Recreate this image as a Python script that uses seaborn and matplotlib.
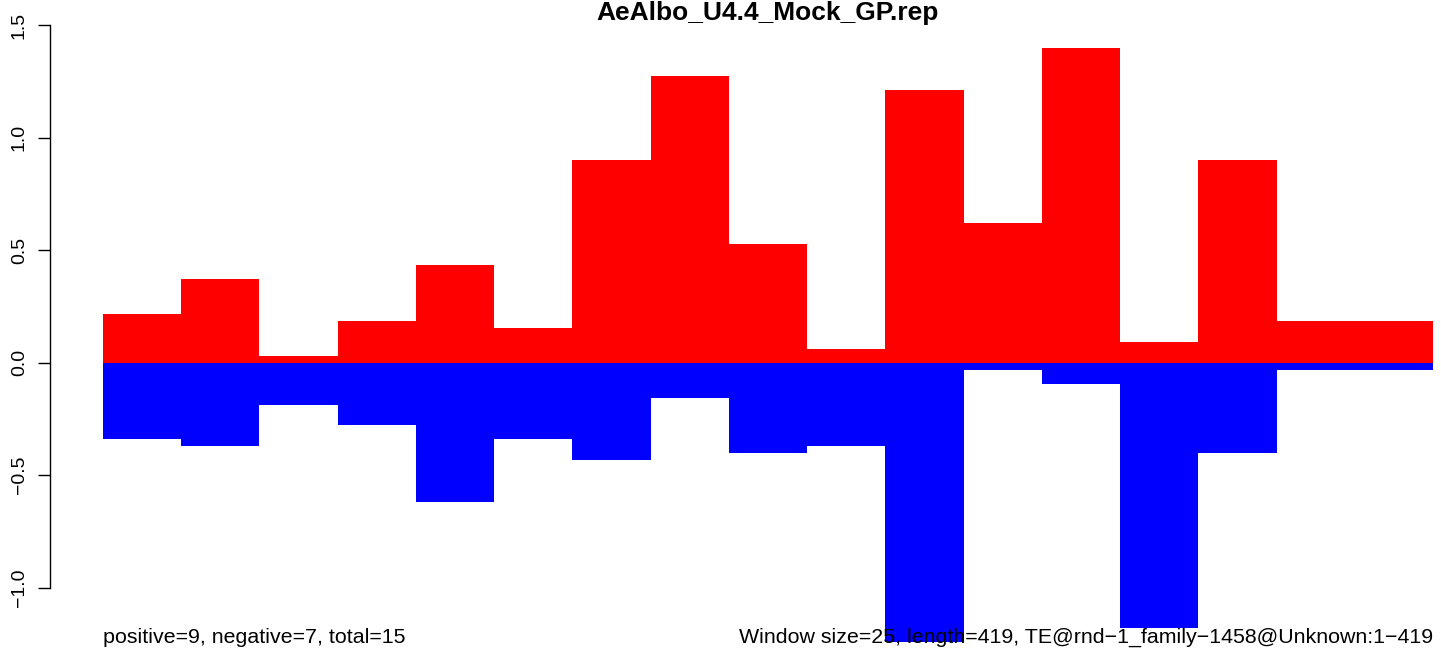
import pandas as pd
import numpy as np
import matplotlib
matplotlib.use("Agg")
import matplotlib.pyplot as plt
import seaborn as sns

# =========================
# DATA
# =========================

windows = [str(i) for i in range(1, 18)]
positive = [0.217, 0.372, 0.031, 0.186, 0.434, 0.155, 0.898, 1.274, 0.527,
            0.062, 1.212, 0.619, 1.398, 0.093, 0.898, 0.186, 0.186]
negative = [-0.341, -0.372, -0.186, -0.279, -0.619, -0.341, -0.434, -0.155, -0.403,
            -0.372, -1.239, -0.031, -0.093, -1.177, -0.403, -0.031, -0.031]

title = "AeAlbo_U4.4_Mock_GP.rep"
left_note = "positive=9, negative=7, total=15"
right_note = "Window size=25, length=419, TE@rnd\u22121_family\u22121458@Unknown:1\u2212419"
yticks = [-1.0, -0.5, 0.0, 0.5, 1.0, 1.5]

df = pd.DataFrame({"window": windows, "pos": positive, "neg": negative})

# =========================
# PLOT
# =========================

sns.set_style("white")
plt.rcParams["font.family"] = ["Liberation Sans", "DejaVu Sans"]
plt.rcParams["text.color"] = "black"
plt.rcParams["ytick.color"] = "black"
plt.rcParams["ytick.labelcolor"] = "black"

W, H = 1441, 651
fig = plt.figure(figsize=(W / 100, H / 100), dpi=100)
ax = fig.add_axes([103 / W, 0, 1330 / W, 1])

sns.barplot(data=df, x="window", y="pos", color="#ff0000", saturation=1,
            width=1, linewidth=0, ax=ax)
sns.barplot(data=df, x="window", y="neg", color="#0000ff", saturation=1,
            width=1, linewidth=0, ax=ax)

ax.set_xlim(-0.5, len(windows) - 0.5)
ax.set_ylim(-1.281, 1.611)
ax.set_xlabel("")
ax.set_ylabel("")
ax.set_xticks([])

for s in ["top", "right", "bottom"]:
    ax.spines[s].set_visible(False)
ax.spines["left"].set_bounds(-1.0, 1.5)
ax.spines["left"].set_position(("outward", 38))
ax.spines["left"].set_linewidth(1.0)
ax.spines["left"].set_color("black")

ax.set_yticks(yticks)
ax.set_yticklabels([f"{t:.1f}".replace("-", "\u2212") for t in yticks],
                   rotation=90, va="center", fontsize=14)
ax.tick_params(axis="y", left=True, direction="out", length=8.6, width=1.0,
               color="black", labelcolor="black", pad=7.5)

fig.text(768 / W, 1 - 13 / H, title, ha="center", va="center",
         fontsize=19, fontweight="bold", color="black")
fig.text(103 / W, 1 - 643 / H, left_note, ha="left", va="baseline",
         fontsize=15.4, color="black")
fig.text(1433 / W, 1 - 643 / H, right_note, ha="right", va="baseline",
         fontsize=15.4, color="black")

plt.savefig("out.png", dpi=100)
